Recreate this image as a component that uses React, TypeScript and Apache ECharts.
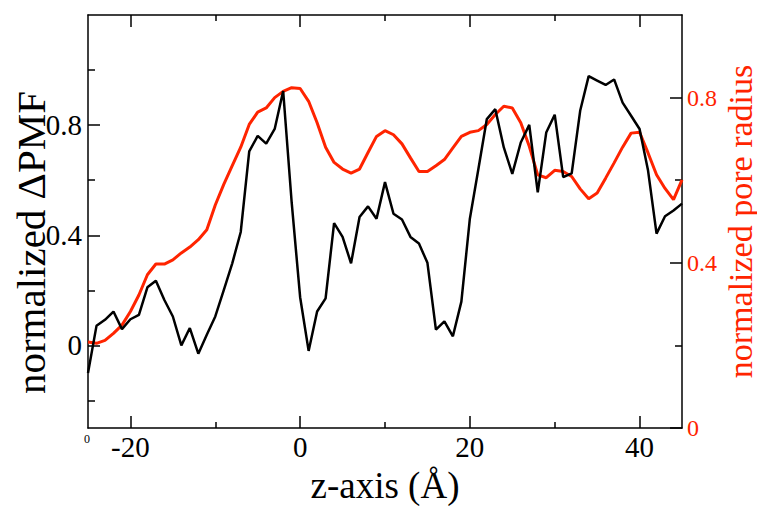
import React, { useEffect, useRef } from "react";
import * as echarts from "echarts";

// z positions along the pore axis (Å)
const zPositions: number[] = [
  -25, -24, -23, -22, -21, -20, -19, -18, -17, -16, -15, -14, -13, -12, -11, -10,
  -9, -8, -7, -6, -5, -4, -3, -2, -1, 0, 1, 2, 3, 4, 5, 6, 7, 8, 9, 10,
  11, 12, 13, 14, 15, 16, 17, 18, 19, 20, 21, 22, 23, 24, 25, 26, 27, 28, 29, 30,
  31, 32, 33, 34, 35, 36, 37, 38, 39, 40, 41, 42, 43, 44, 45,
];

// normalized ΔPMF (left axis)
const pmfValues: number[] = [
  -0.1, 0.071, 0.093, 0.123, 0.059, 0.095, 0.111, 0.211, 0.235, 0.165, 0.105, 0.0, 0.063, -0.03, 0.039, 0.105,
  0.201, 0.298, 0.412, 0.705, 0.761, 0.733, 0.786, 0.924, 0.52, 0.175, -0.02, 0.123, 0.171, 0.444, 0.394, 0.298, 0.466, 0.505, 0.46, 0.593,
  0.478, 0.457, 0.394, 0.37, 0.3, 0.057, 0.087, 0.033, 0.159, 0.46, 0.64, 0.822, 0.858, 0.719, 0.623, 0.737, 0.801, 0.556, 0.773, 0.838,
  0.611, 0.625, 0.852, 0.978, 0.962, 0.946, 0.966, 0.882, 0.834, 0.786, 0.635, 0.406, 0.469, 0.49, 0.515,
];

// normalized pore radius (right axis)
const radiusValues: number[] = [
  0.208, 0.205, 0.212, 0.229, 0.249, 0.282, 0.322, 0.371, 0.397, 0.397, 0.407, 0.424, 0.438, 0.456, 0.48, 0.54,
  0.59, 0.635, 0.68, 0.735, 0.765, 0.775, 0.8, 0.815, 0.824, 0.822, 0.791, 0.739, 0.68, 0.643, 0.627, 0.617, 0.627, 0.667, 0.706, 0.72,
  0.71, 0.688, 0.654, 0.621, 0.621, 0.635, 0.65, 0.678, 0.706, 0.716, 0.72, 0.735, 0.759, 0.779, 0.775, 0.739, 0.682, 0.613, 0.606, 0.624,
  0.621, 0.609, 0.579, 0.555, 0.569, 0.605, 0.642, 0.68, 0.714, 0.716, 0.666, 0.613, 0.58, 0.553, 0.601,
];

const xMajorTicks = [-20, 0, 20, 40];
const xMinorTicks = [-10, 10, 30];
const leftMajorTicks = [0, 0.4, 0.8];
const leftMinorTicks = [-0.2, 0.2, 0.6, 1.0];
const rightMajorTicks = [0, 0.4, 0.8];
const rightMinorTicks = [0.2, 0.6];

const xTitle = "z-axis (Å)";
const leftTitle = "normalized ΔPMF";
const rightTitle = "normalized pore radius";

const FAMILY = "Liberation Serif";
const RED = "#ff2400";
const BLACK = "#000000";

// chart box and axis ranges
const W = 757;
const H = 506;
const GRID = { left: 88, right: 75, top: 15, bottom: 78 };
const X_RANGE = [-25, 45];
const LEFT_RANGE = [-0.3, 1.2];
const RIGHT_RANGE = [0, 1];

const fmt = (v: number) => (v === 0 ? "0" : String(Number(v.toFixed(1))));

export default function App() {
  const ref = useRef<HTMLDivElement>(null);

  useEffect(() => {
    if (!ref.current) return;
    const chart = echarts.init(ref.current, undefined, { renderer: "svg" });

    const lineStyle = { color: BLACK, width: 1.5 };
    const xBase = { type: "value" as const, min: X_RANGE[0], max: X_RANGE[1], gridIndex: 0 };
    const noLabel = { show: false };

    // linear maps of the grid, used only to place the label texts
    const x0 = GRID.left;
    const x1 = W - GRID.right;
    const yTop = GRID.top;
    const yBottom = H - GRID.bottom;
    const px = (v: number) => x0 + ((v - X_RANGE[0]) / (X_RANGE[1] - X_RANGE[0])) * (x1 - x0);
    const pyL = (v: number) =>
      yBottom - ((v - LEFT_RANGE[0]) / (LEFT_RANGE[1] - LEFT_RANGE[0])) * (yBottom - yTop);
    const pyR = (v: number) =>
      yBottom - ((v - RIGHT_RANGE[0]) / (RIGHT_RANGE[1] - RIGHT_RANGE[0])) * (yBottom - yTop);

    const label = (
      text: string,
      x: number,
      y: number,
      fontSize: number,
      align: string,
      fill: string,
      rotation = 0
    ) => ({
      type: "text",
      x,
      y,
      rotation,
      style: { text, fontSize, fontFamily: FAMILY, fill, align, verticalAlign: "middle" },
    });

    const graphics: any[] = [
      ...xMajorTicks.map((v) => label(fmt(v), px(v), yBottom + 18.5, 29, "center", BLACK)),
      ...leftMajorTicks.map((v) => label(fmt(v), x0 - 6, pyL(v), 29, "right", BLACK)),
      ...rightMajorTicks.map((v) => label(fmt(v), x1 + 5, pyR(v), 24, "left", RED)),
      label("0", x0 - 1, yBottom + 11, 12, "center", BLACK),
      label(xTitle, (x0 + x1) / 2, yBottom + 57, 37, "center", BLACK),
      label(leftTitle, x0 - 57, (yTop + yBottom) / 2 + 21, 41, "center", BLACK, Math.PI / 2),
      label(rightTitle, x1 + 58, (yTop + yBottom) / 2, 34, "center", RED, Math.PI / 2),
    ];

    chart.setOption({
      animation: false,
      grid: { ...GRID, containLabel: false, outerBoundsMode: "none" },
      xAxis: [
        {
          ...xBase,
          position: "bottom",
          axisLine: { show: true, onZero: false, lineStyle },
          axisTick: { show: true, inside: true, length: 12, lineStyle, customValues: xMajorTicks },
          axisLabel: noLabel,
          splitLine: { show: false },
        },
        {
          ...xBase,
          position: "bottom",
          axisLine: { show: false, onZero: false },
          axisTick: { show: true, inside: true, length: 6, lineStyle, customValues: xMinorTicks },
          axisLabel: noLabel,
          splitLine: { show: false },
        },
        {
          ...xBase,
          position: "top",
          axisLine: { show: true, onZero: false, lineStyle },
          axisTick: { show: true, inside: true, length: 12, lineStyle, customValues: xMajorTicks },
          axisLabel: noLabel,
          splitLine: { show: false },
        },
        {
          ...xBase,
          position: "top",
          axisLine: { show: false, onZero: false },
          axisTick: { show: true, inside: true, length: 6, lineStyle, customValues: xMinorTicks },
          axisLabel: noLabel,
          splitLine: { show: false },
        },
      ],
      yAxis: [
        {
          type: "value",
          position: "left",
          min: LEFT_RANGE[0],
          max: LEFT_RANGE[1],
          axisLine: { show: true, onZero: false, lineStyle },
          axisTick: { show: true, inside: true, length: 12, lineStyle, customValues: leftMajorTicks },
          axisLabel: noLabel,
          splitLine: { show: false },
        },
        {
          type: "value",
          position: "left",
          min: LEFT_RANGE[0],
          max: LEFT_RANGE[1],
          axisLine: { show: false, onZero: false },
          axisTick: { show: true, inside: true, length: 7, lineStyle, customValues: leftMinorTicks },
          axisLabel: noLabel,
          splitLine: { show: false },
        },
        {
          type: "value",
          position: "right",
          min: RIGHT_RANGE[0],
          max: RIGHT_RANGE[1],
          axisLine: { show: true, onZero: false, lineStyle },
          axisTick: { show: true, inside: true, length: 12, lineStyle, customValues: rightMajorTicks },
          axisLabel: noLabel,
          splitLine: { show: false },
        },
        {
          type: "value",
          position: "right",
          min: RIGHT_RANGE[0],
          max: RIGHT_RANGE[1],
          axisLine: { show: false, onZero: false },
          axisTick: { show: true, inside: true, length: 7, lineStyle, customValues: rightMinorTicks },
          axisLabel: noLabel,
          splitLine: { show: false },
        },
      ],
      graphic: graphics,
      series: [
        {
          type: "line",
          name: "pore radius",
          xAxisIndex: 0,
          yAxisIndex: 2,
          data: zPositions.map((z, i) => [z, radiusValues[i]]),
          showSymbol: false,
          lineStyle: { color: RED, width: 3 },
          itemStyle: { color: RED },
          clip: true,
        },
        {
          type: "line",
          name: "ΔPMF",
          xAxisIndex: 0,
          yAxisIndex: 0,
          data: zPositions.map((z, i) => [z, pmfValues[i]]),
          showSymbol: false,
          lineStyle: { color: BLACK, width: 2.5 },
          itemStyle: { color: BLACK },
          clip: true,
        },
      ],
    });

    return () => chart.dispose();
  }, []);

  return (
    <div
      ref={ref}
      style={{ position: "fixed", left: 0, top: 0, width: W, height: H, background: "#fff" }}
    />
  );
}
